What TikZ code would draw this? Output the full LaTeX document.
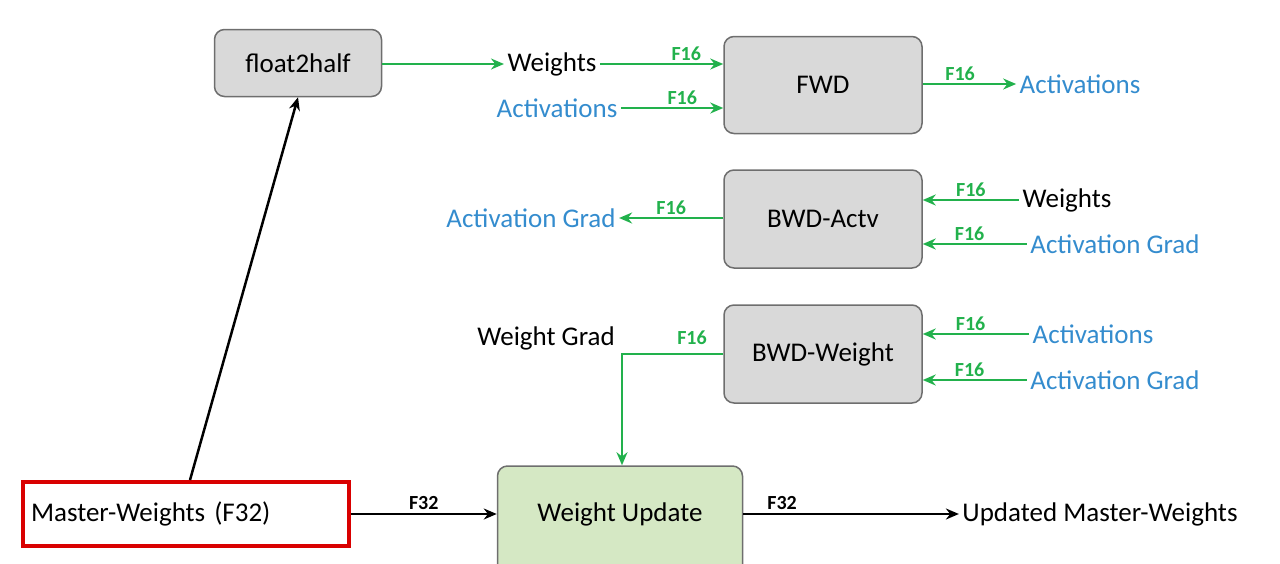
\documentclass[tikz,border=0pt]{standalone}
\usepackage{fontspec}
\setmainfont{Carlito}
\usetikzlibrary{arrows.meta}
\definecolor{gr}{RGB}{34,177,76}
\definecolor{bl}{RGB}{52,140,206}
\definecolor{boxg}{RGB}{217,217,217}
\definecolor{boxe}{RGB}{110,110,110}
\definecolor{wu}{RGB}{213,232,196}
\begin{document}
\begin{tikzpicture}[x=1pt,y=-1pt,
  every node/.style={font=\fontsize{27}{31}\selectfont},
  box/.style={draw=boxe,fill=boxg,rounded corners=10pt,line width=1.5pt,inner sep=0pt},
  ga/.style={draw=gr,line width=2.8pt,-{Stealth[length=13pt,width=11pt]}},
  ka/.style={draw=black,line width=2.5pt,-{Stealth[length=13pt,width=11pt]}},
  lab/.style={font=\fontsize{20}{22}\selectfont\bfseries,text=gr,inner sep=2pt},
  klab/.style={font=\fontsize{20}{22}\selectfont\bfseries,inner sep=3pt}]
\useasboundingbox (0,0) rectangle (1280,563);
\node[box,minimum width=167pt,minimum height=67pt] (f2h) at (298,63) {float2half};
\node[box,minimum width=198pt,minimum height=97pt] (fwd) at (823,85) {FWD};
\node[box,minimum width=198pt,minimum height=98pt] (bwa) at (823,219) {BWD-Actv};
\node[box,minimum width=198pt,minimum height=98pt] (bww) at (823,354) {BWD-Weight};
\node[draw=boxe,fill=wu,rounded corners=10pt,line width=1.5pt,minimum width=245pt,minimum height=110pt] (wu) at (620,521) {};
\node at (620,514) {Weight Update};
\node[draw=red!85!black,line width=3.5pt,minimum width=326pt,minimum height=64pt,text width=310pt,align=left] (mw) at (186,514) {Master-Weights (F32)};
% FWD
\node (w1) at (552,64) {Weights};
\node[text=bl] (a1) at (557,108) {Activations};
\node[text=bl] (a2) at (1080,84) {Activations};
\draw[ga] (f2h.east|-w1) -- (w1.west);
\draw[ga] (w1.east) -- (w1.east-|fwd.west) node[lab,pos=0.7,above] {F16};
\draw[ga] (a1.east) -- (a1.east-|fwd.west) node[lab,pos=0.6,above] {F16};
\draw[ga] (fwd.east|-a2) -- (a2.west) node[lab,pos=0.4,above] {F16};
% BWD-Actv
\node[text=bl] (ag1) at (531,218) {Activation Grad};
\node (w2) at (1067,200) {Weights};
\node[text=bl] (ag2) at (1115,244) {Activation Grad};
\draw[ga] (bwa.west|-ag1) -- (ag1.east) node[lab,midway,above] {F16};
\draw[ga] (w2.west) -- (w2.west-|bwa.east) node[lab,midway,above] {F16};
\draw[ga] (ag2.west) -- (ag2.west-|bwa.east) node[lab,pos=0.55,above] {F16};
% BWD-Weight
\node[text=bl] (a3) at (1093,334) {Activations};
\node[text=bl] (ag3) at (1115,380) {Activation Grad};
\node (wg) at (546,338) {Weight Grad};
\draw[ga] (a3.west) -- (a3.west-|bww.east) node[lab,pos=0.55,above] {F16};
\draw[ga] (ag3.west) -- (ag3.west-|bww.east) node[lab,pos=0.55,above] {F16};
\coordinate (c1) at (622,354);
\draw[ga] (bww.west|-c1) -- (c1) -- (wu.north-|c1);
\node[lab] at (692,338) {F16};
% Master
\node (umw) at (1100,514) {Updated Master-Weights};
\draw[ka] (mw.east) -- (wu.west|-mw.east) node[klab,midway,above] {F32};
\draw[ka] (wu.east|-umw) -- (umw.west) node[klab,pos=0.18,above] {F32};
\draw[ka] (190,480) -- (f2h.south);
\end{tikzpicture}
\end{document}
